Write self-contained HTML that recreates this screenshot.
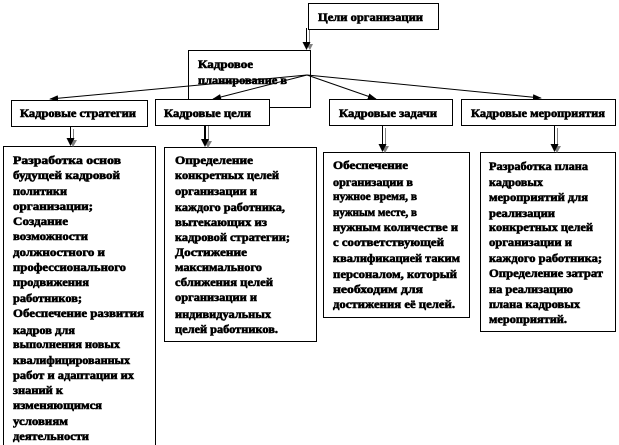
<!DOCTYPE html>
<html><head><meta charset="utf-8"><style>
html,body{margin:0;padding:0;background:#fff;width:619px;height:445px;overflow:hidden}
svg{display:block}
text{font-family:"Liberation Serif","Noto Serif CJK SC",serif;font-weight:bold;font-size:12px;fill:#000;stroke:#000;stroke-width:.6px}
</style></head><body>
<svg width="619" height="445" viewBox="0 0 619 445" xmlns="http://www.w3.org/2000/svg">
<defs>
<marker id="a" viewBox="0 0 10 10" refX="9" refY="5" markerWidth="9" markerHeight="6" markerUnits="userSpaceOnUse" orient="auto" preserveAspectRatio="none"><path d="M0 0L10 5L0 10z" fill="#000"/></marker>
</defs>
<g fill="#fff" stroke="#000" stroke-width="1" shape-rendering="crispEdges">
<rect x="308.5" y="3.5" width="130" height="26"/>
<rect x="188.5" y="50.5" width="122" height="57"/>
<rect x="11.5" y="100.5" width="136" height="26"/>
<rect x="155.5" y="99.5" width="114" height="26"/>
<rect x="329.5" y="99.5" width="123" height="26"/>
<rect x="461.5" y="99.5" width="154" height="26"/>
<rect x="3.5" y="146.5" width="152" height="310"/>
<rect x="164.5" y="147.5" width="152" height="194"/>
<rect x="323.5" y="152.5" width="146" height="165"/>
<rect x="480.5" y="152.5" width="135" height="179"/>
</g>
<g fill="none" stroke="#808080" stroke-width="1" shape-rendering="crispEdges">
<line x1="309.5" y1="30" x2="309.5" y2="46"/>
<line x1="73.5" y1="129" x2="73.5" y2="142"/>
<line x1="208.5" y1="126" x2="208.5" y2="143"/>
<line x1="385.5" y1="128" x2="385.5" y2="148"/>
<line x1="557.5" y1="128" x2="557.5" y2="148"/>
</g>
<g fill="#808080">
<polygon points="310,50 306,44 313,44"/>
<polygon points="73,147 69,140 77,140"/>
<polygon points="208,148 204,141 212,141"/>
<polygon points="385,153 381,146 389,146"/>
<polygon points="557,153 553,146 561,146"/>
</g>
<g fill="none" stroke="#000" stroke-width="1" shape-rendering="crispEdges">
<line x1="306.5" y1="28" x2="306.5" y2="44"/>
<line x1="70.5" y1="127" x2="70.5" y2="141"/>
<line x1="382.5" y1="126" x2="382.5" y2="146"/>
<line x1="554.5" y1="126" x2="554.5" y2="146"/>
<line x1="205" y1="126" x2="205" y2="141" stroke-width="2"/>
</g>
<g fill="#000">
<polygon points="306.5,50 302.5,42 310.5,42"/>
<polygon points="70.5,146 66.5,138 74.5,138"/>
<polygon points="205,147 201,139 209,139"/>
<polygon points="382.5,152 378.5,144 386.5,144"/>
<polygon points="554.5,152 550.5,144 558.5,144"/>
</g>
<g fill="none" stroke="#000" stroke-width="1">
<line x1="307" y1="75" x2="50" y2="99" marker-end="url(#a)"/>
<line x1="307" y1="75" x2="213" y2="99" marker-end="url(#a)"/>
<line x1="307" y1="75" x2="376" y2="99" marker-end="url(#a)"/>
<line x1="307" y1="75" x2="541" y2="98" marker-end="url(#a)"/>
</g>
<g>
<text x="318" y="21" textLength="105" lengthAdjust="spacingAndGlyphs">Цели организации</text>
<text x="198" y="68" textLength="55" lengthAdjust="spacingAndGlyphs">Кадровое</text>
<text x="198" y="84" textLength="89" lengthAdjust="spacingAndGlyphs">планирование в</text>
<text x="20" y="117" textLength="116" lengthAdjust="spacingAndGlyphs">Кадровые стратегии</text>
<text x="164" y="117" textLength="87" lengthAdjust="spacingAndGlyphs">Кадровые цели</text>
<text x="339" y="117" textLength="98" lengthAdjust="spacingAndGlyphs">Кадровые задачи</text>
<text x="471" y="117" textLength="134" lengthAdjust="spacingAndGlyphs">Кадровые мероприятия</text>

<text x="13" y="164" textLength="108" lengthAdjust="spacingAndGlyphs">Разработка основ</text>
<text x="13" y="179" textLength="107" lengthAdjust="spacingAndGlyphs">будущей кадровой</text>
<text x="13" y="195" textLength="54" lengthAdjust="spacingAndGlyphs">политики</text>
<text x="13" y="210" textLength="80" lengthAdjust="spacingAndGlyphs">организации;</text>
<text x="13" y="225" textLength="55" lengthAdjust="spacingAndGlyphs">Создание</text>
<text x="13" y="240" textLength="75" lengthAdjust="spacingAndGlyphs">возможности</text>
<text x="13" y="256" textLength="92" lengthAdjust="spacingAndGlyphs">должностного и</text>
<text x="13" y="271" textLength="113" lengthAdjust="spacingAndGlyphs">профессионального</text>
<text x="13" y="286" textLength="76" lengthAdjust="spacingAndGlyphs">продвижения</text>
<text x="13" y="302" textLength="69" lengthAdjust="spacingAndGlyphs">работников;</text>
<text x="13" y="317" textLength="131" lengthAdjust="spacingAndGlyphs">Обеспечение развития</text>
<text x="13" y="334" textLength="62" lengthAdjust="spacingAndGlyphs">кадров для</text>
<text x="13" y="348" textLength="107" lengthAdjust="spacingAndGlyphs">выполнения новых</text>
<text x="13" y="364" textLength="117" lengthAdjust="spacingAndGlyphs">квалифицированных</text>
<text x="13" y="379" textLength="121" lengthAdjust="spacingAndGlyphs">работ и адаптации их</text>
<text x="13" y="394" textLength="50" lengthAdjust="spacingAndGlyphs">знаний к</text>
<text x="13" y="409" textLength="89" lengthAdjust="spacingAndGlyphs">изменяющимся</text>
<text x="13" y="425" textLength="55" lengthAdjust="spacingAndGlyphs">условиям</text>
<text x="13" y="440" textLength="76" lengthAdjust="spacingAndGlyphs">деятельности</text>

<text x="175" y="164" textLength="78" lengthAdjust="spacingAndGlyphs">Определение</text>
<text x="175" y="179" textLength="104" lengthAdjust="spacingAndGlyphs">конкретных целей</text>
<text x="175" y="195" textLength="82" lengthAdjust="spacingAndGlyphs">организации и</text>
<text x="175" y="211" textLength="110" lengthAdjust="spacingAndGlyphs">каждого работника,</text>
<text x="175" y="226" textLength="92" lengthAdjust="spacingAndGlyphs">вытекающих из</text>
<text x="175" y="241" textLength="115" lengthAdjust="spacingAndGlyphs">кадровой стратегии;</text>
<text x="175" y="256" textLength="72" lengthAdjust="spacingAndGlyphs">Достижение</text>
<text x="175" y="271" textLength="87" lengthAdjust="spacingAndGlyphs">максимального</text>
<text x="175" y="286" textLength="98" lengthAdjust="spacingAndGlyphs">сближения целей</text>
<text x="175" y="301" textLength="82" lengthAdjust="spacingAndGlyphs">организации и</text>
<text x="175" y="318" textLength="96" lengthAdjust="spacingAndGlyphs">индивидуальных</text>
<text x="175" y="333" textLength="103" lengthAdjust="spacingAndGlyphs">целей работников.</text>

<text x="333" y="169" textLength="75" lengthAdjust="spacingAndGlyphs">Обеспечение</text>
<text x="333" y="186" textLength="80" lengthAdjust="spacingAndGlyphs">организации в</text>
<text x="333" y="200" textLength="84" lengthAdjust="spacingAndGlyphs">нужное время, в</text>
<text x="333" y="216" textLength="84" lengthAdjust="spacingAndGlyphs">нужным месте, в</text>
<text x="333" y="231" textLength="125" lengthAdjust="spacingAndGlyphs">нужным количестве и</text>
<text x="333" y="246" textLength="111" lengthAdjust="spacingAndGlyphs">с соответствующей</text>
<text x="333" y="262" textLength="127" lengthAdjust="spacingAndGlyphs">квалификацией таким</text>
<text x="333" y="278" textLength="124" lengthAdjust="spacingAndGlyphs">персоналом, который</text>
<text x="333" y="293" textLength="90" lengthAdjust="spacingAndGlyphs">необходим для</text>
<text x="333" y="308" textLength="122" lengthAdjust="spacingAndGlyphs">достижения её целей.</text>

<text x="489" y="170" textLength="99" lengthAdjust="spacingAndGlyphs">Разработка плана</text>
<text x="489" y="186" textLength="54" lengthAdjust="spacingAndGlyphs">кадровых</text>
<text x="489" y="201" textLength="99" lengthAdjust="spacingAndGlyphs">мероприятий для</text>
<text x="489" y="217" textLength="66" lengthAdjust="spacingAndGlyphs">реализации</text>
<text x="489" y="231" textLength="104" lengthAdjust="spacingAndGlyphs">конкретных целей</text>
<text x="489" y="246" textLength="83" lengthAdjust="spacingAndGlyphs">организации и</text>
<text x="489" y="262" textLength="113" lengthAdjust="spacingAndGlyphs">каждого работника;</text>
<text x="489" y="277" textLength="114" lengthAdjust="spacingAndGlyphs">Определение затрат</text>
<text x="489" y="293" textLength="84" lengthAdjust="spacingAndGlyphs">на реализацию</text>
<text x="489" y="308" textLength="91" lengthAdjust="spacingAndGlyphs">плана кадровых</text>
<text x="489" y="323" textLength="78" lengthAdjust="spacingAndGlyphs">мероприятий.</text>
</g>
</svg>
</body></html>
